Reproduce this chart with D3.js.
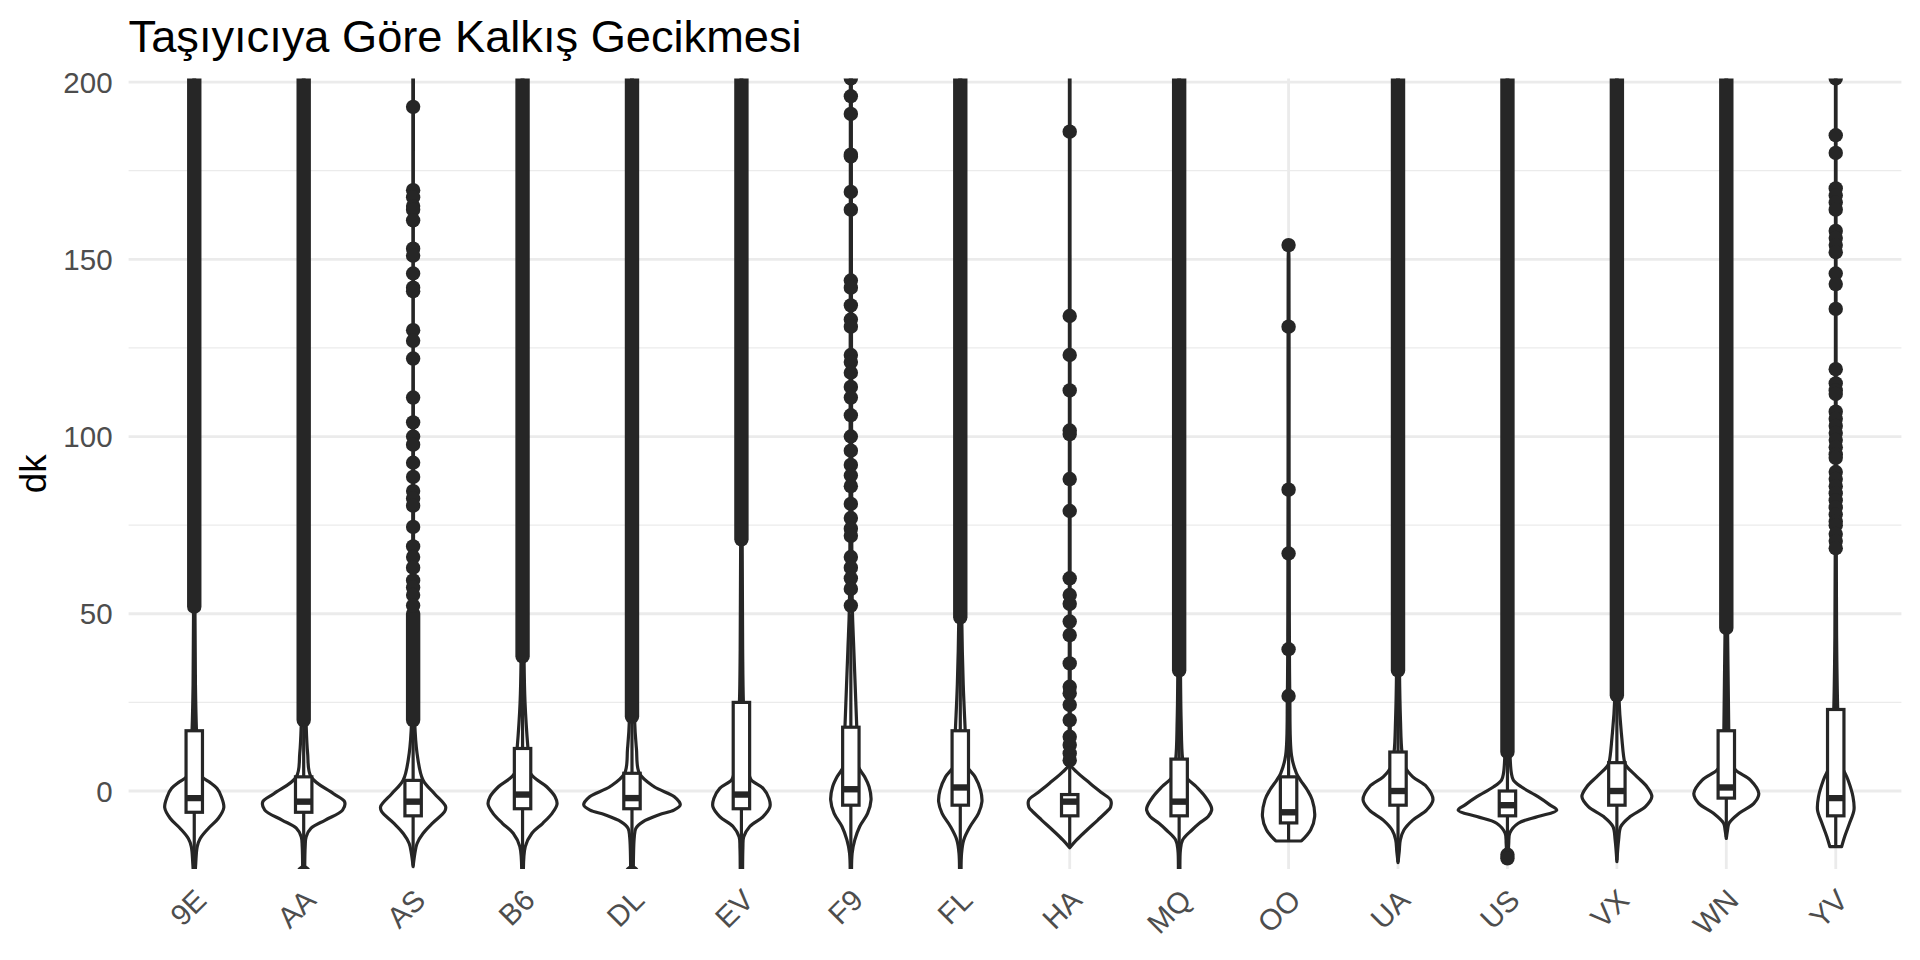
<!DOCTYPE html>
<html>
<head>
<meta charset="utf-8">
<script src="https://cdn.jsdelivr.net/npm/d3@7"></script>
<style>
  html, body { margin: 0; padding: 0; background: #ffffff; }
  svg { display: block; font-family: "Liberation Sans", Arial, Helvetica, sans-serif; }
</style>
</head>
<body>
<svg id="chart" width="1920" height="960"></svg>
<script>
// ---------------- DATA ----------------
const chartTitle = "Taşıyıcıya Göre Kalkış Gecikmesi";
const yAxisTitle = "dk";
const carriers = ["9E","AA","AS","B6","DL","EV","F9","FL","HA","MQ","OO","UA","US","VX","WN","YV"];
const yTicks = [0, 50, 100, 150, 200];
const yMinorTicks = [25, 75, 125, 175];

// boxplot statistics (minutes)
const boxQ1      = [-6, -6, -7, -5, -5, -5, -4, -4, -7, -7, -9, -4, -7, -4, -2, -7];
const boxMedian  = [-2, -3, -3, -1, -2, -1, 0.5, 1, -3, -3, -6, 0, -4, 0, 1, -2];
const boxQ3      = [17, 4, 3, 12, 5, 25, 18, 17, -1, 9, 4, 11, 0, 8, 17, 23];
const whiskerLow = [-24, -21, -21, -30, -20, -30, -30, -30, -16, -26, -14, -20, -17, -19.5, -13, -16];
const whiskerHigh= [51, 19, 19, 37, 20, 70, 50, 48, 8, 33, 23, 33, 10, 26, 45, 68];

// dense outlier columns: lowest and highest outlier of each continuous run (null = none)
const denseLow  = [52, 20, 20, 38, 21, 71, null, 49, null, 34, null, 34, 11, 27, 46, null];
const denseHigh = [210, 210, 50, 210, 210, 210, null, 210, null, 210, null, 210, 210, 210, 210, null];

// individual outliers
const outliersAA = [-23];
const outliersAS = [193, 169.5, 167.5, 165, 164, 161, 153, 151, 146, 142, 141, 130, 127, 122, 111, 104, 100, 97.7, 92.6, 88.6, 84.6, 82.5, 80.5, 74.5, 69, 66, 63, 59.4, 57.4, 55.3, 52.3];
const outliersDL = [-23];
const outliersF9 = [201, 196, 191, 179.5, 179, 169, 164, 144, 142, 137, 133, 131, 123, 121, 118, 114, 111, 106, 100, 96, 92, 89, 86, 81, 77, 74, 72, 66, 63, 60, 57, 52.3];
const outliersHA = [186, 134, 123, 113, 101.7, 100.7, 88, 79, 60, 55.3, 52.8, 47.8, 44, 36, 29.4, 27.6, 24.3, 20, 15.3, 13, 10.6, 8.7];
const outliersOO = [154, 131, 85, 67, 40, 26.8];
const outliersUS = [-18, -19];
const outliersYV = [201, 185, 180, 170, 168, 166, 164, 158, 156, 154, 152, 146, 143, 136, 119, 115, 113, 112, 107, 105, 103, 101, 99, 97, 95, 94, 90, 88, 86, 84, 82, 80, 78, 76, 75, 72.5, 70.5, 68.5];
const sparseOutliers = {
  "AA": outliersAA, "AS": outliersAS, "DL": outliersDL, "F9": outliersF9,
  "HA": outliersHA, "OO": outliersOO, "US": outliersUS, "YV": outliersYV
};

// violin profiles: [delay, scaled density width (1 = widest violin)]
const violin9E = [[210,.008],[100,.01],[52,.014],[30,.024],[17,.045],[10,.07],[7,.1],[4,.16],[2.6,.3],[0.75,.46],[-1.6,.55],[-4.7,.6],[-7.7,.49],[-10.5,.29],[-13.4,.12],[-15.7,.06],[-20.4,.03],[-24,.016]];
const violinAA = [[210,.008],[50,.012],[20,.047],[10.6,.08],[4,.15],[-0.7,.6],[-3,.83],[-5.4,.79],[-8.2,.44],[-10.5,.15],[-12.9,.05],[-15.7,.03],[-24,.02]];
const violinAS = [[210,.006],[50,.01],[20,.03],[10.6,.08],[3.1,.2],[-0.7,.43],[-4.4,.66],[-5.8,.64],[-9,.4],[-12,.2],[-14.8,.08],[-17.6,.035],[-21.3,0]];
const violinB6 = [[210,.008],[38,.03],[25,.05],[12,.11],[5,.16],[1.2,.49],[-1.6,.66],[-3.7,.7],[-6.3,.6],[-9.1,.41],[-11.9,.19],[-15.7,.055],[-30,.025]];
const violinDL = [[210,.008],[21,.05],[12,.09],[5,.15],[1.2,.45],[-1.6,.86],[-3.9,.98],[-5.4,.85],[-6.7,.55],[-8.7,.22],[-10.5,.08],[-12.9,.047],[-30,.025]];
const violinEV = [[210,.008],[71,.015],[40,.025],[25,.04],[10,.09],[5,.15],[3.1,.2],[0.75,.44],[-2.1,.56],[-4.4,.58],[-7.2,.44],[-10,.17],[-12.9,.047],[-16,.03],[-30,.025]];
const violinF9 = [[210,.01],[100,.015],[52,.03],[40,.06],[18,.12],[10,.14],[6.9,.15],[4,.28],[1.2,.37],[-2.5,.41],[-6.3,.34],[-10,.18],[-13.8,.08],[-17.6,.026],[-27,.016]];
const violinFL = [[210,.01],[49,.03],[30,.06],[17,.1],[10,.12],[6.9,.14],[4,.3],[0.3,.41],[-3,.44],[-6.3,.37],[-10,.2],[-13.8,.07],[-17.6,.026],[-24,.016]];
const violinHA = [[210,.006],[50,.008],[10,.012],[7.3,.02],[5.4,.14],[2.2,.41],[-0.5,.65],[-2.5,.83],[-4.5,.83],[-5.4,.78],[-8.2,.57],[-11,.35],[-13.8,.14],[-16,0]];
const violinMQ = [[210,.008],[34,.027],[20,.04],[9,.07],[4,.14],[1.2,.35],[-1.6,.53],[-4.4,.65],[-5.4,.66],[-7.2,.59],[-9.1,.41],[-11,.26],[-13.8,.07],[-16.6,.026],[-26,.02]];
const violinOO = [[154,0],[150,.008],[100,.01],[50,.015],[27,.025],[10,.06],[5,.16],[3.1,.24],[0.3,.38],[-2.5,.48],[-7.2,.53],[-10.9,.45],[-14.1,.26]];
const violinUA = [[210,.008],[34,.03],[20,.05],[11,.08],[6.9,.14],[4,.3],[1.2,.58],[-2.5,.71],[-5.4,.58],[-8.2,.3],[-11,.12],[-13.8,.047],[-17,.025],[-20.2,0]];
const violinUS = [[210,.008],[11,.05],[5,.08],[3.1,.12],[1.2,.28],[-1.6,.62],[-3.9,.86],[-5.4,1.0],[-7.2,.62],[-9.1,.22],[-11.9,.047],[-14.8,.026],[-19,.015]];
const violinVX = [[210,.008],[27,.04],[15,.1],[8,.16],[6.9,.2],[4,.41],[1.2,.61],[-1.6,.71],[-4.4,.58],[-7.2,.27],[-10,.08],[-13.8,.035],[-19.9,0]];
const violinWN = [[210,.008],[46,.025],[17,.05],[8.7,.06],[5.9,.19],[3.1,.49],[-0.7,.66],[-3.5,.56],[-6.3,.26],[-9.1,.055],[-11,.025],[-13.4,0]];
const violinYV = [[210,.006],[69,.01],[40,.02],[23,.04],[8.7,.08],[3.1,.25],[-1.6,.35],[-5.4,.37],[-9.1,.28],[-12.9,.18],[-15.7,.12]];
const violinProfiles = [violin9E, violinAA, violinAS, violinB6, violinDL, violinEV, violinF9, violinFL,
                        violinHA, violinMQ, violinOO, violinUA, violinUS, violinVX, violinWN, violinYV];

// ---------------- LAYOUT ----------------
const panel = { left: 128.6, right: 1901.4, top: 78.5, bottom: 869 };
const ink = "#262626";
const gridColor = "#EBEBEB";
const axisTextColor = "#4D4D4D";
const strokeW = 3.2;

const svg = d3.select("#chart");

const x = d3.scalePoint().domain(carriers).range([panel.left, panel.right]).padding(0.6);
const y = d3.scaleLinear().domain([-22, 201]).range([panel.bottom, panel.top]);
const wScale = d3.scaleLinear().domain([0, 1]).range([0, x.step() * 0.45]);
const boxHalf = x.step() * 0.15 / 2;
const pointR = 7.2;

// clip
svg.append("defs").append("clipPath").attr("id", "panelClip")
  .append("rect")
  .attr("x", panel.left).attr("y", panel.top)
  .attr("width", panel.right - panel.left).attr("height", panel.bottom - panel.top);

// grid
const grid = svg.append("g");
grid.selectAll("line.minor").data(yMinorTicks).join("line")
  .attr("x1", panel.left).attr("x2", panel.right)
  .attr("y1", d => y(d)).attr("y2", d => y(d))
  .attr("stroke", gridColor).attr("stroke-width", 1.4);
grid.selectAll("line.major").data(yTicks).join("line")
  .attr("x1", panel.left).attr("x2", panel.right)
  .attr("y1", d => y(d)).attr("y2", d => y(d))
  .attr("stroke", gridColor).attr("stroke-width", 2.8);
grid.selectAll("line.vmajor").data(carriers).join("line")
  .attr("x1", d => x(d)).attr("x2", d => x(d))
  .attr("y1", panel.top).attr("y2", panel.bottom)
  .attr("stroke", gridColor).attr("stroke-width", 2.8);

const plot = svg.append("g").attr("clip-path", "url(#panelClip)");

// violins
carriers.forEach((c, i) => {
  const cx = x(c);
  const prof = violinProfiles[i].map(([v, w]) => ({ v, w }));
  const area = d3.area()
    .y(d => y(d.v))
    .x0(d => cx - wScale(d.w))
    .x1(d => cx + wScale(d.w))
    .curve(d3.curveCatmullRom.alpha(0.5));
  plot.append("path")
    .attr("d", area(prof))
    .attr("fill", "#ffffff")
    .attr("stroke", ink)
    .attr("stroke-width", strokeW)
    .attr("stroke-linejoin", "round");
});

// boxplots
carriers.forEach((c, i) => {
  const cx = x(c);
  const g = plot.append("g");
  if (denseLow[i] !== null) {
    const yTop = y(denseHigh[i]) - pointR, yBot = y(denseLow[i]) + pointR;
    g.append("rect")
      .attr("x", cx - pointR).attr("width", pointR * 2)
      .attr("y", yTop).attr("height", yBot - yTop)
      .attr("rx", pointR).attr("ry", pointR)
      .attr("fill", ink);
  }
  const pts = sparseOutliers[c] || [];
  g.selectAll("circle").data(pts).join("circle")
    .attr("cx", cx).attr("cy", d => y(d)).attr("r", pointR)
    .attr("fill", ink);
  g.append("line").attr("x1", cx).attr("x2", cx)
    .attr("y1", y(boxQ3[i])).attr("y2", y(whiskerHigh[i]))
    .attr("stroke", ink).attr("stroke-width", strokeW);
  g.append("line").attr("x1", cx).attr("x2", cx)
    .attr("y1", y(boxQ1[i])).attr("y2", y(whiskerLow[i]))
    .attr("stroke", ink).attr("stroke-width", strokeW);
  g.append("rect")
    .attr("x", cx - boxHalf).attr("width", boxHalf * 2)
    .attr("y", y(boxQ3[i])).attr("height", y(boxQ1[i]) - y(boxQ3[i]))
    .attr("fill", "#ffffff").attr("stroke", ink).attr("stroke-width", strokeW);
  g.append("line")
    .attr("x1", cx - boxHalf).attr("x2", cx + boxHalf)
    .attr("y1", y(boxMedian[i])).attr("y2", y(boxMedian[i]))
    .attr("stroke", ink).attr("stroke-width", strokeW * 2);
});

// y axis labels
svg.append("g").selectAll("text").data(yTicks).join("text")
  .attr("x", panel.left - 16)
  .attr("y", d => y(d))
  .attr("dy", "0.36em")
  .attr("text-anchor", "end")
  .attr("font-size", 29.5)
  .attr("fill", axisTextColor)
  .text(d => d);

// x axis labels (rotated 45°)
svg.append("g").selectAll("text").data(carriers).join("text")
  .attr("transform", d => `translate(${x(d) + 14},${panel.bottom + 33}) rotate(-45)`)
  .attr("text-anchor", "end")
  .attr("font-size", 29.5)
  .attr("fill", axisTextColor)
  .text(d => d);

// y axis title
svg.append("text")
  .attr("transform", `translate(46,${(panel.top + panel.bottom) / 2}) rotate(-90)`)
  .attr("text-anchor", "middle")
  .attr("font-size", 36.7)
  .attr("fill", "#000000")
  .text(yAxisTitle);

// title
svg.append("text")
  .attr("x", panel.left)
  .attr("y", 52)
  .attr("font-size", 45.2)
  .attr("fill", "#000000")
  .text(chartTitle);
</script>
</body>
</html>
